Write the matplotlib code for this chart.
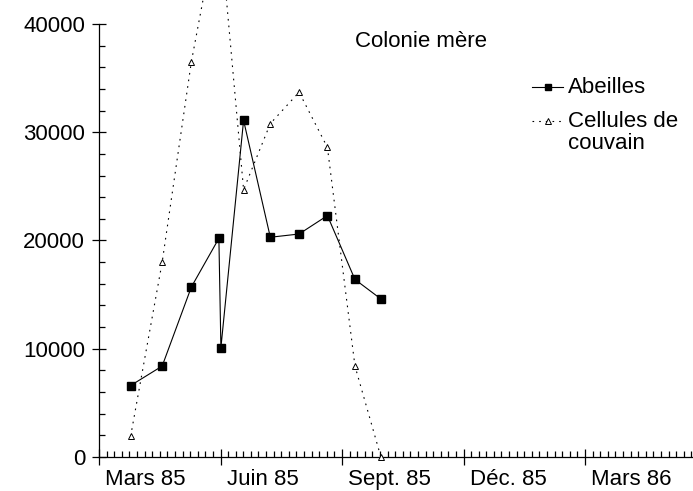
import matplotlib.pyplot as plt
from matplotlib.ticker import MultipleLocator, NullFormatter
from matplotlib.lines import Line2D

plt.rcParams['font.family'] = ['Liberation Sans', 'DejaVu Sans']

# x = months since 1 March 1985
abeilles_x = [0.78, 1.56, 2.28, 2.96, 3.01, 3.57, 4.23, 4.94, 5.64, 6.32, 6.96]
abeilles_y = [6600, 8400, 15700, 20200, 10100, 31100, 20300, 20600, 22300, 16400, 14600]

cellules_x = [0.78, 1.56, 2.28, 2.96, 3.57, 4.23, 4.94, 5.64, 6.32, 6.96]
cellules_y = [1900, 18000, 36500, 50000, 24700, 30800, 33700, 28600, 8400, 0]

quarter_ticks = [0, 3, 6, 9, 12]
quarter_labels = ["Mars 85", "Juin 85", "Sept. 85", "Déc. 85", "Mars 86"]

W, H = 693, 491
fig = plt.figure(figsize=(W / 100, H / 100), dpi=100)
# axes box in pixels: left 99, right edge of image, y from 457 (0) to 24 (40000)
ax = fig.add_axes([99 / W, (H - 457) / H, (W - 99) / W, (457 - 24) / H])

dots = (0, (1.5, 4.5))
ax.plot(cellules_x, cellules_y, color='black', lw=0.8, linestyle=dots,
        marker='^', markersize=4.2, markerfacecolor='white',
        markeredgecolor='black', markeredgewidth=0.7, clip_on=False, zorder=3)
ax.plot(abeilles_x, abeilles_y, color='black', lw=0.8, marker='s',
        markersize=5.3, markerfacecolor='black', markeredgecolor='black',
        clip_on=False, zorder=4)

ax.set_xlim(0, (W - 99) / 40.5)
ax.set_ylim(0, 40000)

for s in ['top', 'right']:
    ax.spines[s].set_visible(False)
for s in ['left', 'bottom']:
    ax.spines[s].set_linewidth(0.9)

ax.yaxis.set_major_locator(MultipleLocator(10000))
ax.yaxis.set_minor_locator(MultipleLocator(2000))
ax.xaxis.set_major_locator(MultipleLocator(3))
ax.xaxis.set_minor_locator(MultipleLocator(3 / 16))
ax.xaxis.set_major_formatter(NullFormatter())

ax.tick_params(axis='y', which='major', direction='inout', length=10, width=0.9,
               labelsize=16, pad=5)
ax.tick_params(axis='y', which='minor', direction='in', length=4.5, width=0.9)
ax.tick_params(axis='x', which='major', direction='inout', length=12, width=0.9)
ax.tick_params(axis='x', which='minor', direction='in', length=4.5, width=0.9)

for t, lab in zip(quarter_ticks, quarter_labels):
    ax.annotate(lab, xy=(t, 0), xycoords=('data', 'axes fraction'),
                xytext=(4.5, -8.5), textcoords='offset points',
                ha='left', va='top', fontsize=16, annotation_clip=False)

ax.text(0.431, 0.947, "Colonie mère", transform=ax.transAxes,
        ha='left', va='baseline', fontsize=16)

# legend drawn by hand so the handle sits on the first line of the label
leg_x0, leg_x1, leg_xm, leg_tx = 0.729, 0.781, 0.756, 0.789
ax.add_line(Line2D([leg_x0, leg_x1], [0.855, 0.855], transform=ax.transAxes,
                   color='black', lw=0.8, clip_on=False))
ax.add_line(Line2D([leg_xm], [0.855], transform=ax.transAxes, marker='s',
                   markersize=4, color='black', clip_on=False))
ax.add_line(Line2D([leg_x0, leg_x1], [0.776, 0.776], transform=ax.transAxes,
                   color='black', lw=0.8, linestyle=dots, clip_on=False))
ax.add_line(Line2D([leg_xm], [0.776], transform=ax.transAxes, marker='^',
                   markersize=4, markerfacecolor='white', markeredgecolor='black',
                   markeredgewidth=0.7, clip_on=False))
ax.text(leg_tx, 0.8406, "Abeilles", transform=ax.transAxes,
        ha='left', va='baseline', fontsize=16)
ax.text(leg_tx, 0.762, "Cellules de", transform=ax.transAxes,
        ha='left', va='baseline', fontsize=16)
ax.text(leg_tx, 0.7106, "couvain", transform=ax.transAxes,
        ha='left', va='baseline', fontsize=16)

fig.savefig("out.png", dpi=100)
